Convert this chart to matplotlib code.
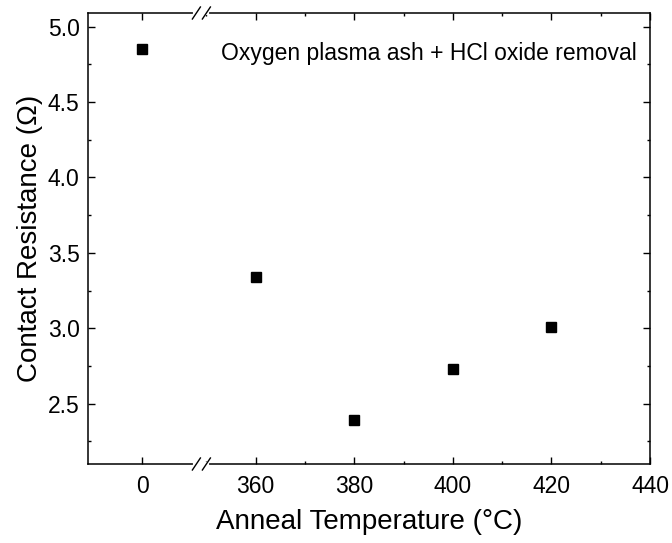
import numpy as np
import matplotlib
matplotlib.use('Agg')
import matplotlib.pyplot as plt
from matplotlib.lines import Line2D
from matplotlib.ticker import MultipleLocator

plt.rcParams['font.family'] = ['Liberation Sans', 'DejaVu Sans']

# anneal temperature (0 = no anneal) and measured contact resistance
temps = [0, 360, 380, 400, 420]
resistance = [4.85, 3.34, 2.39, 2.73, 3.01]
note = 'Oxygen plasma ash + HCl oxide removal'

W, H = 672, 543
fig = plt.figure(figsize=(W / 100, H / 100), dpi=100)

left, right, bottom, top = 88 / W, 650 / W, 1 - 464 / H, 1 - 13 / H
lo_range = (-11, 12)
hi_range = (349, 440)
span = (lo_range[1] - lo_range[0]) + (hi_range[1] - hi_range[0])
w1 = (right - left) * (lo_range[1] - lo_range[0]) / span
w2 = (right - left) - w1

ax1 = fig.add_axes([left, bottom, w1, top - bottom])
ax2 = fig.add_axes([left + w1, bottom, w2, top - bottom], sharey=ax1)

for ax in (ax1, ax2):
    ax.plot(temps, resistance, 's', color='black', markersize=7, linestyle='none')
    for s in ax.spines.values():
        s.set_linewidth(1.1)
    ax.tick_params(which='major', direction='in', length=5, width=1, labelsize=16.5)
    ax.tick_params(which='minor', direction='in', length=2.5, width=1)
    ax.tick_params(axis='x', pad=8)
    ax.tick_params(axis='y', pad=6)

ax1.set_xlim(*lo_range)
ax2.set_xlim(*hi_range)
ax1.set_ylim(2.1, 5.09)

ax1.spines['right'].set_visible(False)
ax2.spines['left'].set_visible(False)

ax1.set_xticks([0])
ax1.yaxis.set_major_locator(MultipleLocator(0.5))
ax1.yaxis.set_minor_locator(MultipleLocator(0.25))
ax1.tick_params(which='both', top=True, right=False)

ax2.set_xticks([360, 380, 400, 420, 440])
ax2.xaxis.set_minor_locator(MultipleLocator(10))
ax2.tick_params(which='both', top=True, left=False, right=True, labelleft=False)

fig.text(30 / W, (bottom + top) / 2, 'Contact Resistance (Ω)', fontsize=20,
         rotation=90, ha='center', va='center')
fig.text((left + right) / 2, 1 - 522 / H, 'Anneal Temperature (°C)', fontsize=20,
         ha='center', va='center')

ax2.text(0.971, 0.911, note, transform=ax2.transAxes, fontsize=16.5,
         ha='right', va='center')

# break marks on the top and bottom spines
bx = left + w1
for by in (bottom, top):
    fig.add_artist(Line2D([bx - 6 / W, bx + 6 / W], [by, by], color='white',
                          linewidth=3, transform=fig.transFigure))
    for off in (-5, 5):
        x0 = bx + (off - 4) / W
        x1 = bx + (off + 4) / W
        fig.add_artist(Line2D([x0, x1], [by - 6 / H, by + 6 / H], color='black',
                              linewidth=1, transform=fig.transFigure))

fig.savefig('out.png', dpi=100)
